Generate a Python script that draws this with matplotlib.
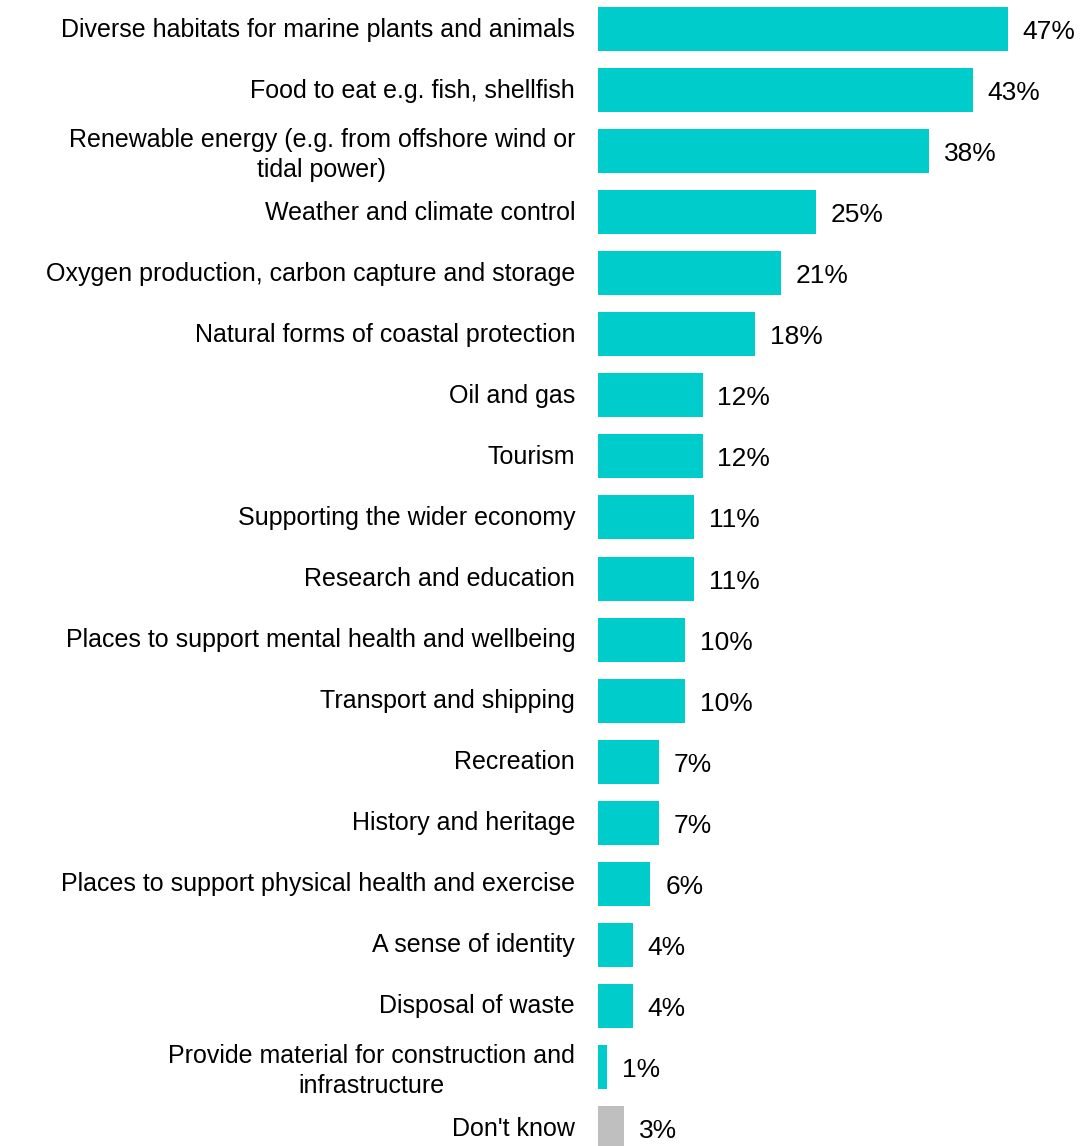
import matplotlib
matplotlib.use("Agg")
import matplotlib.pyplot as plt
import matplotlib.transforms as mtransforms
import numpy as np

plt.rcParams['font.family'] = ['Liberation Sans', 'DejaVu Sans']

categories = [
    "Diverse habitats for marine plants and animals",
    "Food to eat e.g. fish, shellfish",
    "Renewable energy (e.g. from offshore wind or\ntidal power)",
    "Weather and climate control",
    "Oxygen production, carbon capture and storage",
    "Natural forms of coastal protection",
    "Oil and gas",
    "Tourism",
    "Supporting the wider economy",
    "Research and education",
    "Places to support mental health and wellbeing",
    "Transport and shipping",
    "Recreation",
    "History and heritage",
    "Places to support physical health and exercise",
    "A sense of identity",
    "Disposal of waste",
    "Provide material for construction and\ninfrastructure",
    "Don't know",
]
values = [47, 43, 38, 25, 21, 18, 12, 12, 11, 11, 10, 10, 7, 7, 6, 4, 4, 1, 3]

TEAL = "#00CCCC"
GREY = "#BFBFBF"
colors = [TEAL] * (len(values) - 1) + [GREY]

W, H = 1086, 1146
fig = plt.figure(figsize=(W / 100, H / 100), dpi=100)
ax = fig.add_axes([598 / W, 0, 1 - 598 / W, 1])

y = np.arange(len(values))
ax.barh(y, values, height=0.72, color=colors)

# small vertical nudges (in pixels) for the text
down = mtransforms.ScaledTranslation(0, -3 / 100, fig.dpi_scale_trans)
up = mtransforms.ScaledTranslation(0, 2 / 100, fig.dpi_scale_trans)

for yi, v in zip(y, values):
    ax.text(v + 1.7, yi, f"{v}%", va="center", ha="left", fontsize=19,
            color="#000000", transform=ax.transData + down)

ax.set_xlim(0, (W - 598) / 8.72)
ax.set_ylim((H - 29) / 61.06, -29 / 61.06)

ax.set_yticks(y)
ax.set_yticklabels(categories, fontsize=18, linespacing=1.32, multialignment="center")
ax.tick_params(axis="y", length=0, pad=16.5)
for lbl in ax.get_yticklabels():
    lbl.set_transform(lbl.get_transform() + up)
ax.set_xticks([])
for s in ax.spines.values():
    s.set_visible(False)

fig.savefig("out.png", dpi=100)
